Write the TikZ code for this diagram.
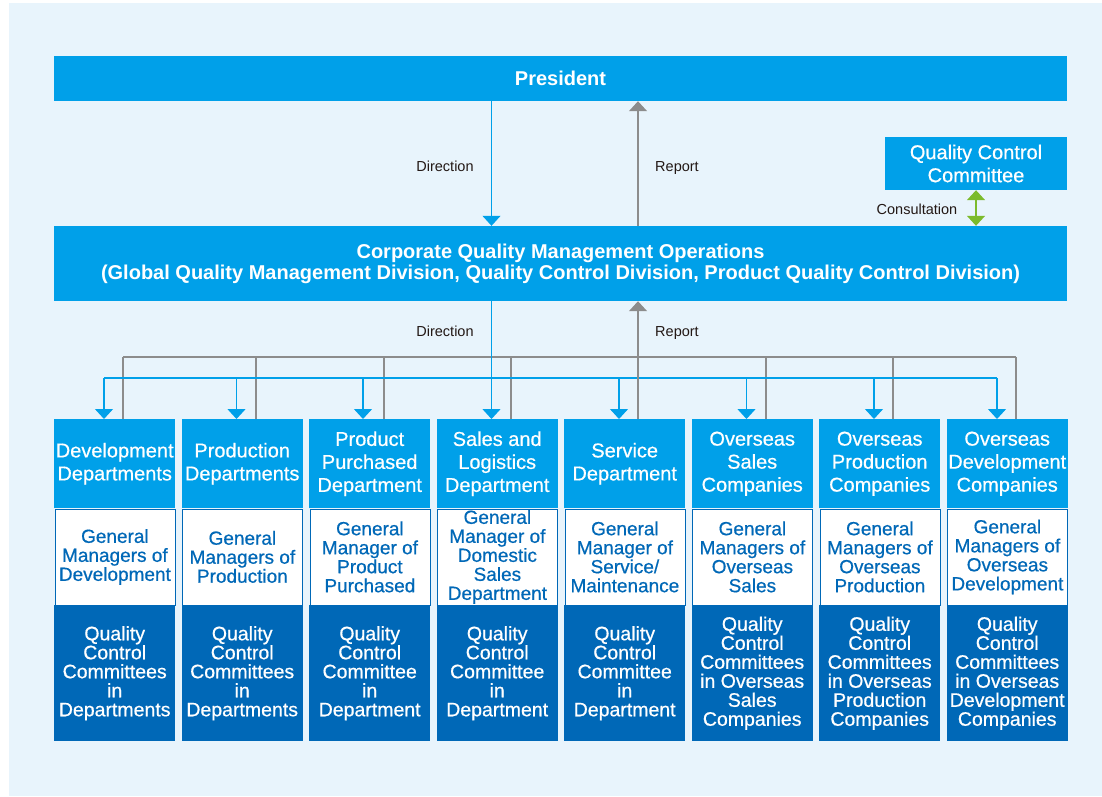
\documentclass[tikz,border=0pt]{standalone}
\usepackage{fontspec}
\setmainfont{Liberation Sans}
\newfontfamily\medsans{Liberation Sans}[FakeBold=0.6]
\usetikzlibrary{arrows.meta}

\definecolor{skyblue}{HTML}{00A0E9}
\definecolor{navyblue}{HTML}{0068B7}
\definecolor{paleblue}{HTML}{E8F4FC}
\definecolor{linegray}{HTML}{8C8C8C}
\definecolor{leafgreen}{HTML}{7CBB2C}
\definecolor{labelgray}{HTML}{231815}

\tikzset{
  bar/.style={fill=skyblue, text=white, inner sep=0pt, align=center},
  head/.style={fill=skyblue, text=white, anchor=north west, minimum width=121pt, minimum height=89pt, inner sep=0pt, align=center, font=\medsans\fontsize{20}{23}\selectfont},
  mgr/.style={fill=white, draw=navyblue, line width=0.8pt, text=navyblue, anchor=north west, minimum width=120pt, minimum height=96pt, inner sep=0pt, align=center, font=\medsans\fontsize{19}{19}\selectfont},
  cmte/.style={fill=navyblue, text=white, anchor=north west, minimum width=121pt, minimum height=136pt, inner sep=0pt, align=center, font=\medsans\fontsize{19.5}{19}\selectfont},
  lbl/.style={text=labelgray, inner sep=0pt, anchor=base, font=\fontsize{14.5}{17}\selectfont},
  dirarrow/.style={draw=skyblue, line width=1.2pt, -{Triangle[width=18pt,length=10pt]}},
  reparrow/.style={draw=linegray, line width=1.4pt, -{Triangle[width=18pt,length=10pt]}},
  bluebus/.style={draw=skyblue, line width=1.2pt},
  graybus/.style={draw=linegray, line width=1.4pt},
  consarrow/.style={draw=leafgreen, line width=1.5pt, {Triangle[width=18pt,length=10pt]}-{Triangle[width=18pt,length=10pt]}}
}

\begin{document}
\begin{tikzpicture}[x=1pt, y=-1pt]
  \useasboundingbox (0,0) rectangle (1102,796);
  \fill[paleblue] (9,3) rectangle (1102,796);

  %%%%% TOP %%%%%
  \node[bar, minimum width=1013pt, minimum height=45pt, font=\fontsize{20}{24}\selectfont\bfseries] (pres) at (560.5,78.5) {President};
  \node[bar, minimum width=1013pt, minimum height=75pt, font=\fontsize{20}{21}\selectfont\bfseries] (corp) at (560.5,263.5)
    {Corporate Quality Management Operations\\(Global Quality Management Division, Quality Control Division, Product Quality Control Division)};
  \node[bar, minimum width=182pt, minimum height=53pt, font=\medsans\fontsize{20}{23}\selectfont] (qcc) at (976,163.5) {Quality Control\\Committee};

  %%%%% COLUMNS %%%%%
  \node[head] (h1) at (54,419) {Development\\Departments};
  \node[head] (h2) at (181.5,419) {Production\\Departments};
  \node[head] (h3) at (309,419) {Product\\Purchased\\Department};
  \node[head] (h4) at (436.5,419) {Sales and\\Logistics\\Department};
  \node[head] (h5) at (564,419) {Service\\Department};
  \node[head] (h6) at (691.5,419) {Overseas\\Sales\\Companies};
  \node[head] (h7) at (819,419) {Overseas\\Production\\Companies};
  \node[head] (h8) at (946.5,419) {Overseas\\Development\\Companies};

  \node[mgr] (m1) at (54.5,508.5) {General\\Managers of\\Development};
  \node[mgr] (m2) at (182,508.5) {General\\Managers of\\Production};
  \node[mgr] (m3) at (309.5,508.5) {General\\Manager of\\Product\\Purchased};
  \node[mgr] (m4) at (437,508.5) {General\\Manager of\\Domestic\\Sales\\Department};
  \node[mgr] (m5) at (564.5,508.5) {General\\Manager of\\Service/\\Maintenance};
  \node[mgr] (m6) at (692,508.5) {General\\Managers of\\Overseas\\Sales};
  \node[mgr] (m7) at (819.5,508.5) {General\\Managers of\\Overseas\\Production};
  \node[mgr] (m8) at (947,508.5) {General\\Managers of\\Overseas\\Development};

  \node[cmte] (q1) at (54,605) {Quality\\Control\\Committees\\in\\Departments};
  \node[cmte] (q2) at (181.5,605) {Quality\\Control\\Committees\\in\\Departments};
  \node[cmte] (q3) at (309,605) {Quality\\Control\\Committee\\in\\Department};
  \node[cmte] (q4) at (436.5,605) {Quality\\Control\\Committee\\in\\Department};
  \node[cmte] (q5) at (564,605) {Quality\\Control\\Committee\\in\\Department};
  \node[cmte] (q6) at (691.5,605) {Quality\\Control\\Committees\\in Overseas\\Sales\\Companies};
  \node[cmte] (q7) at (819,605) {Quality\\Control\\Committees\\in Overseas\\Production\\Companies};
  \node[cmte] (q8) at (946.5,605) {Quality\\Control\\Committees\\in Overseas\\Development\\Companies};

  %%%%% BUSES %%%%%
  \coordinate (b1) at (104,378);   \coordinate (g1) at (123,357);
  \coordinate (b2) at (236.5,378); \coordinate (g2) at (256,357);
  \coordinate (b3) at (363,378);   \coordinate (g3) at (384,357);
  \coordinate (b4) at (491.5,378); \coordinate (g4) at (511,357);
  \coordinate (b5) at (619,378);   \coordinate (g5) at (638,357);
  \coordinate (b6) at (746.5,378); \coordinate (g6) at (766,357);
  \coordinate (b7) at (874,378);   \coordinate (g7) at (893,357);
  \coordinate (b8) at (997,378);   \coordinate (g8) at (1016,357);
  \coordinate (cons) at (976,0);

  \draw[graybus] (g1) -- (g8);
  \foreach \i in {1,...,8}
    \draw[graybus] (h\i.north -| g\i) -- (g\i);
  \draw[bluebus] (b1) -- (b8);
  \foreach \i in {1,2,3,5,6,7,8}
    \draw[dirarrow] (b\i) -- (h\i.north -| b\i);

  %%%%% DIRECTION / REPORT %%%%%
  \draw[dirarrow] (pres.south -| b4) -- (corp.north -| b4);
  \draw[reparrow] (corp.north -| g5) -- (pres.south -| g5);
  \draw[dirarrow] (corp.south -| b4) -- (h4.north -| b4);
  \draw[reparrow] (h5.north -| g5) -- (corp.south -| g5);
  \draw[consarrow] (qcc.south -| cons) -- (corp.north -| cons);

  \node[lbl] (dir1) at (445,171) {Direction};
  \node[lbl] (rep1) at (677,171) {Report};
  \node[lbl] (dir2) at (445,336) {Direction};
  \node[lbl] (rep2) at (677,336) {Report};
  \node[lbl] (con) at (917,214) {Consultation};
\end{tikzpicture}
\end{document}
